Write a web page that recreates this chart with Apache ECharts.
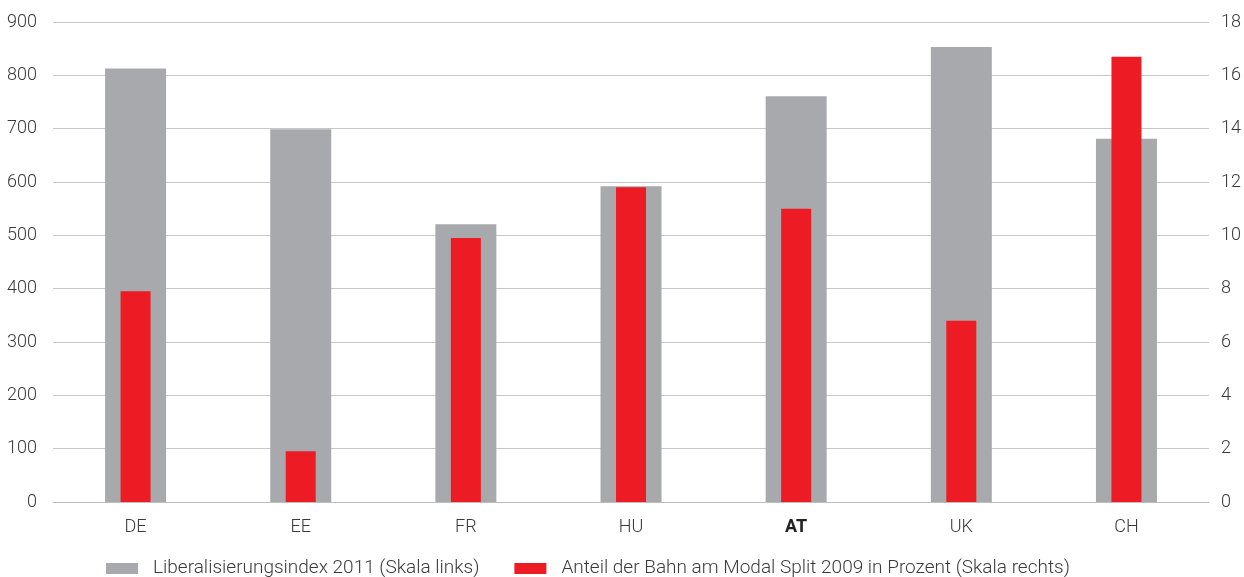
<!DOCTYPE html>
<html>
<head>
<meta charset="utf-8">
<script src="https://cdn.jsdelivr.net/npm/echarts@6/dist/echarts.min.js"></script>
<style>
  html, body { margin: 0; padding: 0; background: #fff; }
  #chart { width: 1244px; height: 577px; }
</style>
</head>
<body>
<div id="chart"></div>
<script>
const countries = ['DE', 'EE', 'FR', 'HU', 'AT', 'UK', 'CH'];
const liberalIndex = [813, 699, 521, 592, 761, 853, 681];
const railShare = [7.9, 1.9, 9.9, 11.8, 11.0, 6.8, 16.7];
const leftTicks = [0, 900, 100];
const rightTicks = [0, 18, 2];

const labelFont = 'Roboto, "DejaVu Sans", sans-serif';
var chart = echarts.init(document.getElementById('chart'));
chart.setOption({
  animation: false,
  grid: { left: 53, right: 34, top: 22, bottom: 75 },
  legend: {
    left: 101,
    top: 554,
    icon: 'rect',
    itemWidth: 32,
    itemHeight: 11,
    itemGap: 35,
    textStyle: { color: '#3a3a3a', fontSize: 19, fontWeight: 300, fontFamily: labelFont, padding: [0, 0, 0, 10] },
    data: ['Liberalisierungsindex 2011 (Skala links)', 'Anteil der Bahn am Modal Split 2009 in Prozent (Skala rechts)']
  },
  xAxis: [{
    type: 'category',
    data: countries,
    axisTick: { show: false },
    axisLine: { lineStyle: { color: '#bdbdbd', width: 1 } },
    axisLabel: {
      color: '#3a3a3a',
      fontSize: 18,
      fontWeight: 300,
      fontFamily: labelFont,
      margin: 16,
      formatter: function (v) { return v === 'AT' ? '{b|' + v + '}' : v; },
      rich: { b: { fontWeight: 'bold', color: '#222', fontSize: 18, fontFamily: labelFont } }
    }
  }, {
    type: 'category',
    data: countries,
    show: false
  }],
  yAxis: [{
    type: 'value',
    min: leftTicks[0], max: leftTicks[1], interval: leftTicks[2],
    axisLine: { show: false },
    axisTick: { show: false },
    axisLabel: { color: '#3a3a3a', fontSize: 18, fontWeight: 300, fontFamily: labelFont, margin: 16 },
    splitLine: { lineStyle: { color: '#c8c8c8', width: 1 } }
  }, {
    type: 'value',
    min: rightTicks[0], max: rightTicks[1], interval: rightTicks[2],
    axisLine: { show: false },
    axisTick: { show: false },
    axisLabel: { color: '#3a3a3a', fontSize: 18, fontWeight: 300, fontFamily: labelFont, margin: 12 },
    splitLine: { show: false }
  }],
  series: [{
    name: 'Liberalisierungsindex 2011 (Skala links)',
    type: 'bar',
    xAxisIndex: 0,
    yAxisIndex: 0,
    barWidth: 61,
    itemStyle: { color: '#a8a9ad' },
    data: liberalIndex
  }, {
    name: 'Anteil der Bahn am Modal Split 2009 in Prozent (Skala rechts)',
    type: 'bar',
    xAxisIndex: 1,
    yAxisIndex: 1,
    barWidth: 30,
    itemStyle: { color: '#ed1c24' },
    data: railShare
  }]
});
</script>
</body>
</html>
